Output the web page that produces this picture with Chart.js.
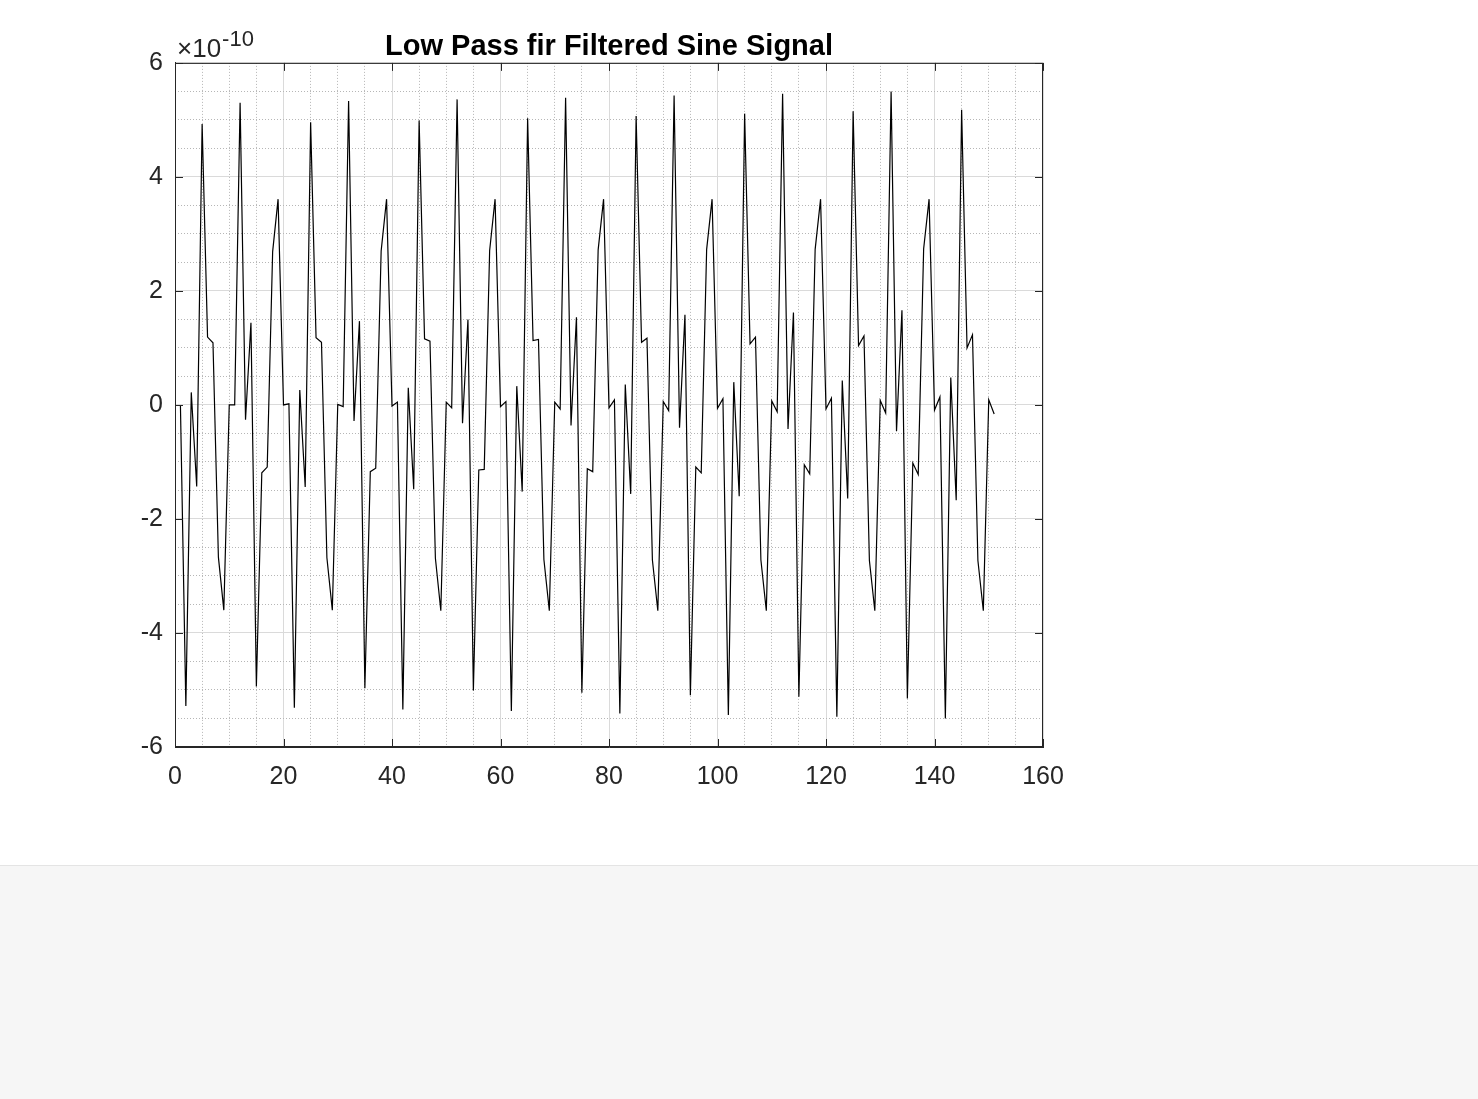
<!DOCTYPE html>
<html>
<head>
<meta charset="utf-8">
<script src="https://cdn.jsdelivr.net/npm/chart.js@4.4.1/dist/chart.umd.min.js"></script>
<style>
    body { margin: 0; background: #ffffff; width: 1478px; height: 1099px; overflow: hidden; position: relative; }
    #plot { position: absolute; left: 0; top: 0; }
    #footer { position: absolute; left: 0; top: 865px; width: 1478px; height: 234px; background: #f6f6f6; border-top: 1px solid #e4e4e4; }
</style>
</head>
<body>
<canvas id="plot" width="1478" height="865"></canvas>
<div id="footer"></div>
<script>
// Werte in Einheiten von 1e-10, Abtastindex ab 1
const firstSample = 1;
const yExponent = -10;
const filteredSignal = [
    0.00, -5.28, 0.22, -1.43, 4.93, 1.19, 1.09, -2.67, -3.60, 0.00,
    0.00, 5.30, -0.26, 1.44, -4.94, -1.19, -1.09, 2.69, 3.61, 0.00,
    0.02, -5.31, 0.26, -1.44, 4.96, 1.18, 1.10, -2.68, -3.60, 0.01,
    -0.03, 5.33, -0.28, 1.47, -4.97, -1.17, -1.11, 2.70, 3.61, -0.02,
    0.05, -5.34, 0.30, -1.48, 4.99, 1.16, 1.12, -2.69, -3.61, 0.05,
    -0.05, 5.36, -0.32, 1.50, -5.01, -1.14, -1.13, 2.71, 3.61, -0.03,
    0.06, -5.37, 0.33, -1.52, 5.03, 1.13, 1.15, -2.71, -3.61, 0.05,
    -0.07, 5.39, -0.36, 1.54, -5.05, -1.12, -1.17, 2.72, 3.61, -0.05,
    0.09, -5.41, 0.36, -1.56, 5.07, 1.10, 1.17, -2.72, -3.61, 0.06,
    -0.10, 5.43, -0.40, 1.58, -5.09, -1.09, -1.19, 2.73, 3.61, -0.06,
    0.11, -5.44, 0.40, -1.60, 5.11, 1.07, 1.19, -2.72, -3.61, 0.07,
    -0.12, 5.46, -0.42, 1.62, -5.12, -1.05, -1.21, 2.73, 3.61, -0.07,
    0.12, -5.47, 0.43, -1.64, 5.15, 1.04, 1.21, -2.73, -3.61, 0.08,
    -0.14, 5.50, -0.46, 1.66, -5.15, -1.02, -1.22, 2.74, 3.61, -0.09,
    0.14, -5.50, 0.48, -1.67, 5.18, 1.00, 1.23, -2.73, -3.61, 0.09,
    -0.16
];
const xTicks = [0, 20, 40, 60, 80, 100, 120, 140, 160];
const yTicks = [-6, -4, -2, 0, 2, 4, 6];
const xMinorStep = 5;
const yMinorStep = 0.5;
const titleText = 'Low Pass fir Filtered Sine Signal';

const axisColor = '#262626';
const fontFamily = '"Liberation Sans", Arial, Helvetica, sans-serif';

const points = filteredSignal.map((v, i) => ({x: i + firstSample, y: v}));

// Rahmen, Ticks nach innen und Exponent oben links
const matlabBox = {
    id: 'matlabBox',
    afterDatasetsDraw(chart) {
        const {ctx, chartArea: a, scales} = chart;
        ctx.save();
        ctx.strokeStyle = axisColor;
        ctx.lineWidth = 1;
        ctx.strokeRect(a.left + 0.5, a.top + 0.5, a.right - a.left - 1, a.bottom - a.top - 1);
        ctx.beginPath();
        xTicks.forEach(t => {
            const px = Math.round(scales.x.getPixelForValue(t)) + 0.5;
            ctx.moveTo(px, a.bottom); ctx.lineTo(px, a.bottom - 8);
            ctx.moveTo(px, a.top); ctx.lineTo(px, a.top + 8);
        });
        yTicks.forEach(t => {
            const py = Math.round(scales.y.getPixelForValue(t)) + 0.5;
            ctx.moveTo(a.left, py); ctx.lineTo(a.left + 8, py);
            ctx.moveTo(a.right, py); ctx.lineTo(a.right - 8, py);
        });
        ctx.stroke();

        ctx.fillStyle = axisColor;
        ctx.textBaseline = 'alphabetic';
        ctx.textAlign = 'left';
        ctx.font = '26px ' + fontFamily;
        const base = '\u00d710';
        ctx.fillText(base, a.left + 2, a.top - 6);
        const w = ctx.measureText(base).width;
        ctx.font = '22px ' + fontFamily;
        ctx.fillText(String(yExponent), a.left + 3 + w, a.top - 17);
        ctx.restore();
    }
};

const ctx = document.getElementById('plot').getContext('2d');
const chart = new Chart(ctx, {
    type: 'line',
    data: {
        datasets: [{
            label: 'gefiltert',
            data: points,
            borderColor: '#000000',
            borderWidth: 1.2,
            pointRadius: 0,
            tension: 0,
            fill: false
        }]
    },
    options: {
        responsive: false,
        animation: false,
        layout: {padding: {left: 0, right: 435, top: 0, bottom: 0}},
        plugins: {
            legend: {display: false},
            tooltip: {enabled: false},
            title: {
                display: true,
                text: titleText,
                fullSize: false,
                color: '#000000',
                font: {family: fontFamily, size: 29, weight: 'bold', lineHeight: 1.1},
                padding: {top: 31, bottom: 0}
            }
        },
        scales: {
            x: {
                type: 'linear',
                min: 0,
                max: 160,
                position: 'bottom',
                afterBuildTicks: s => { s.ticks = xTicks.map(v => ({value: v})); },
                afterFit: s => { s.height = 118; },
                ticks: {color: axisColor, font: {family: fontFamily, size: 25}, padding: 15, maxRotation: 0},
                grid: {color: '#dadada', drawTicks: false},
                border: {color: axisColor}
            },
            xMinor: {
                type: 'linear',
                min: 0,
                max: 160,
                position: 'bottom',
                afterFit: s => { s.height = 0; },
                ticks: {display: false, stepSize: xMinorStep},
                grid: {
                    drawTicks: false,
                    color: c => (c.tick && c.tick.value % 20 === 0) ? 'rgba(0,0,0,0)' : '#b6b6b6'
                },
                border: {display: false, dash: [1, 2]}
            },
            y: {
                type: 'linear',
                min: -6,
                max: 6,
                position: 'left',
                afterBuildTicks: s => { s.ticks = yTicks.map(v => ({value: v})); },
                afterFit: s => { s.width = 175; },
                ticks: {color: axisColor, font: {family: fontFamily, size: 25}, padding: 12},
                grid: {color: '#dadada', drawTicks: false},
                border: {color: axisColor}
            },
            yMinor: {
                type: 'linear',
                min: -6,
                max: 6,
                position: 'left',
                afterFit: s => { s.width = 0; },
                ticks: {display: false, stepSize: yMinorStep},
                grid: {
                    drawTicks: false,
                    color: c => (c.tick && c.tick.value % 2 === 0) ? 'rgba(0,0,0,0)' : '#b6b6b6'
                },
                border: {display: false, dash: [1, 2]}
            }
        }
    },
    plugins: [matlabBox]
});
</script>
</body>
</html>
